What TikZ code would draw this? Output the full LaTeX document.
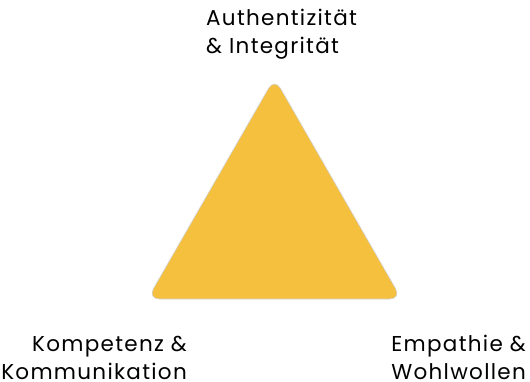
\documentclass[tikz,border=0pt]{standalone}
\usepackage{fontspec}
\setmainfont{Poppins}
\newfontfamily\labelfont[LetterSpace=6]{Poppins}
\definecolor{pyramid}{HTML}{F5C03E}
\begin{document}
\begin{tikzpicture}[x=1pt,y=1pt,
  label text/.style={inner sep=0pt, font=\labelfont\fontsize{21.5}{28}\selectfont, text=black}]
\useasboundingbox (0,0) rectangle (530,381);
% the triangle with softened corners
\coordinate (apex) at (274.5,303);
\coordinate (left) at (147.5,82);
\coordinate (right) at (401.5,82);
\path[fill=pyramid, draw=black!18, line width=0.6pt, rounded corners=12pt]
  (apex) -- (right) -- (left) -- cycle;
% corner labels
\node[label text, anchor=north west, align=left] (top) at (206,372) {Authentizität\\\& Integrität};
\node[label text, anchor=south east, align=right] (kk) at (187,1) {Kompetenz \&\\Kommunikation};
\node[label text, anchor=south east, align=right] (ew) at (526,1) {Empathie \&\\Wohlwollen};
\end{tikzpicture}
\end{document}
